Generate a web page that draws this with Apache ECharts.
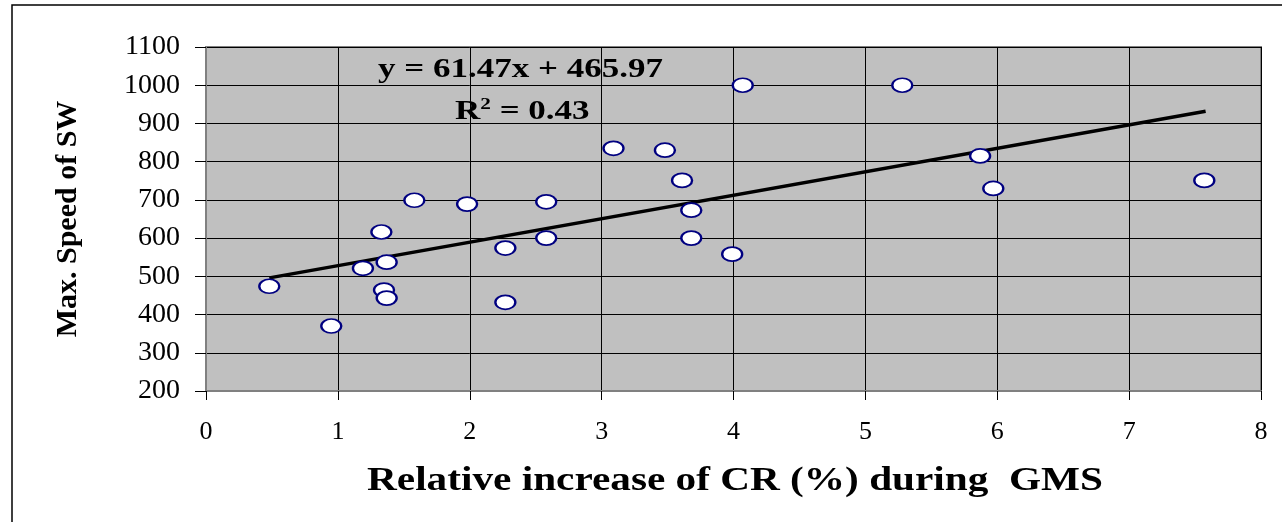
<!DOCTYPE html>
<html>
<head>
<meta charset="utf-8">
<style>
  html, body { margin: 0; padding: 0; background: #fff; }
  #chart { width: 1282px; height: 522px; }
</style>
<script src="https://cdn.jsdelivr.net/npm/echarts@6/dist/echarts.min.js"></script>
</head>
<body>
<div id="chart"></div>
<script>
// relative increase of CR (%) vs max speed of SW
const crIncrease = [0.48, 0.95, 1.19, 1.33, 1.37, 1.35, 1.37, 1.58, 1.98, 2.27, 2.27, 2.58,
  2.58, 3.09, 3.48, 3.61, 3.68, 3.68, 3.99, 4.07, 5.28, 5.87, 5.97, 7.57]
const maxSpeed = [474, 370, 521, 616, 537, 464, 443, 699, 689, 574, 432, 695,
  600, 835, 830, 751, 673, 600, 558, 1000, 1000, 815, 730, 751]
// end points of the drawn trend line
const trendX = [0.48, 7.58]
const trendY = [496, 932]
const xTicks = ['0', '1', '2', '3', '4', '5', '6', '7', '8']

const serif = '"Liberation Serif", "DejaVu Serif", serif'

const chart = echarts.init(document.getElementById('chart'), null, { renderer: 'canvas' })

chart.setOption({
  backgroundColor: '#fff',
  animation: false,
  grid: {
    left: 206,
    top: 47,
    right: 21,
    bottom: 131,
    show: true,
    backgroundColor: '#C0C0C0',
    borderColor: '#808080',
    borderWidth: 2,
  },
  xAxis: {
    type: 'value',
    min: 0,
    max: 8,
    interval: 1,
    axisLine: { show: true, lineStyle: { color: '#808080', width: 2 } },
    axisTick: { show: true, length: 9, lineStyle: { color: '#000', width: 1 } },
    axisLabel: {
      fontFamily: serif, fontSize: 26, color: '#000', margin: 28,
      formatter: v => xTicks[v],
    },
    splitLine: { show: true, lineStyle: { color: '#000', width: 1 } },
  },
  yAxis: {
    type: 'value',
    min: 200,
    max: 1100,
    interval: 100,
    name: 'Max. Speed of SW',
    nameLocation: 'middle',
    nameGap: 123,
    nameRotate: 90,
    nameTextStyle: { fontFamily: serif, fontSize: 30, fontWeight: 'bold', color: '#000' },
    axisLine: { show: true, lineStyle: { color: '#808080', width: 2 } },
    axisTick: { show: true, length: 11, lineStyle: { color: '#000', width: 1 } },
    axisLabel: {
      fontFamily: serif, fontSize: 28, color: '#000', margin: 26,
      formatter: v => String(v),
    },
    splitLine: { show: true, lineStyle: { color: '#000', width: 1 } },
  },
  graphic: [
    {
      type: 'polyline',
      shape: { points: [[12, 522], [12, 5], [1282, 5]] },
      style: { stroke: '#000', lineWidth: 1.5, fill: null },
    },
    {
      type: 'text',
      x: 735,
      y: 481,
      scaleX: 1.25,
      style: {
        text: 'Relative increase of CR (%) during  GMS',
        font: 'bold 33px ' + serif,
        fill: '#000',
        align: 'center',
        verticalAlign: 'middle',
      },
    },
    {
      type: 'text',
      x: 378,
      y: 70,
      scaleX: 1.25,
      style: {
        text: 'y = 61.47x + 465.97',
        font: 'bold 28px ' + serif,
        fill: '#000',
        align: 'left',
        verticalAlign: 'middle',
      },
    },
    {
      type: 'text',
      x: 455,
      y: 111,
      scaleX: 1.25,
      style: {
        text: '{b|R}{s|2}{b| = 0.43}',
        align: 'left',
        verticalAlign: 'middle',
        rich: {
          b: { font: 'bold 28px ' + serif, fill: '#000', verticalAlign: 'bottom' },
          s: { font: 'bold 17px ' + serif, fill: '#000', verticalAlign: 'top', padding: [0, 0, 12, 0] },
        },
      },
    },
  ],
  series: [
    {
      type: 'line',
      data: trendX.map((x, i) => [x, trendY[i]]),
      symbol: 'none',
      lineStyle: { color: '#000', width: 3.5 },
      z: 3,
    },
    {
      type: 'scatter',
      data: crIncrease.map((x, i) => [x, maxSpeed[i]]),
      symbol: 'circle',
      symbolSize: [20, 14],
      itemStyle: { color: '#fff', borderColor: '#000080', borderWidth: 2, opacity: 1 },
      z: 4,
    },
  ],
})
</script>
</body>
</html>
